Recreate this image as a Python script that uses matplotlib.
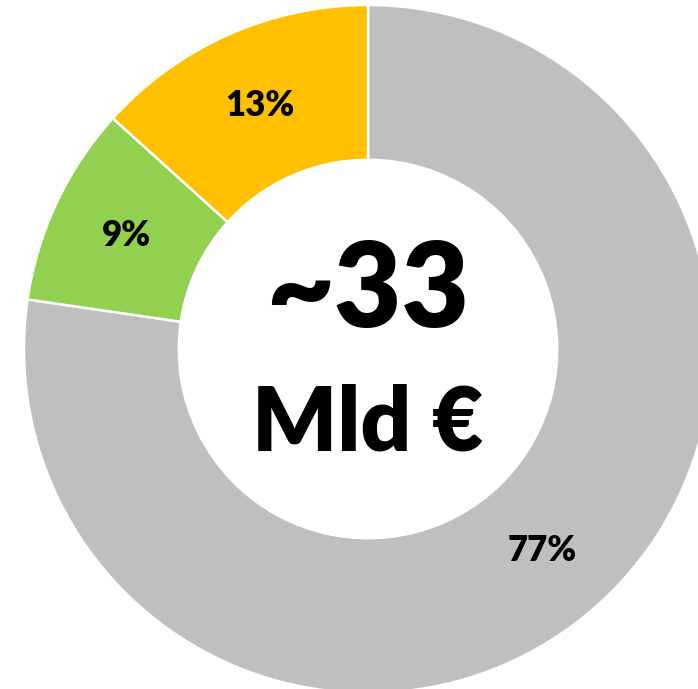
import matplotlib.pyplot as plt

# share of the ~33 Mld EUR total (starts at 12 o'clock, clockwise)
segments = ["rest", "green", "yellow"]
shares = [77.3, 9.4, 13.3]
colors = ["#BFBFBF", "#92D050", "#FFC000"]
total_label = "~33"
unit_label = "Mld €"

font = "Lato"
weight = "heavy"

W, H = 698, 689
cx, cy, R = 368, 349, 344   # pixel centre and outer radius of the ring

fig = plt.figure(figsize=(W / 100, H / 100), dpi=100)
ax = fig.add_axes([0, 0, 1, 1])

wedges, texts, autotexts = ax.pie(
    shares, colors=colors, startangle=90, counterclock=False, radius=1,
    autopct=lambda p: f"{round(p)}%", pctdistance=0.775,
    wedgeprops=dict(width=0.45, edgecolor="white", linewidth=1.8),
    textprops=dict(fontsize=25, fontweight=weight, family=font, color="black"),
)

ax.set_xlim(-cx / R, (W - cx) / R)
ax.set_ylim(-(H - cy) / R, cy / R)
ax.set_aspect("equal")
ax.axis("off")

ax.text(0, 0.064, total_label, ha="center", va="baseline",
        fontsize=84, fontweight=weight, family=font)
ax.text(0, -0.294, unit_label, ha="center", va="baseline",
        fontsize=64, fontweight=weight, family=font)

fig.savefig("out.png", dpi=100, facecolor="white")
